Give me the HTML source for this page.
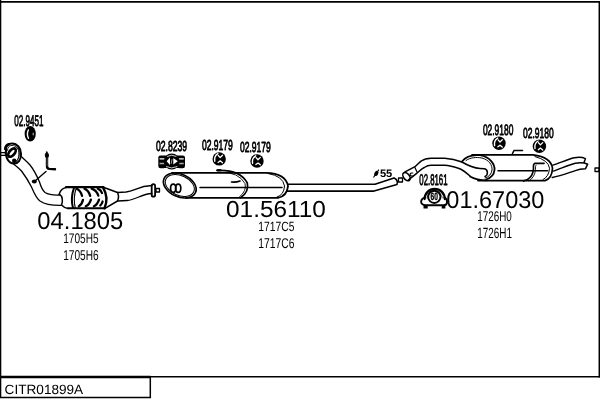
<!DOCTYPE html>
<html><head><meta charset="utf-8"><style>
html,body{margin:0;padding:0;background:#fff;}
svg{display:block;will-change:transform;}
text{font-family:"Liberation Sans",sans-serif;fill:#000;stroke-linejoin:round;text-rendering:geometricPrecision;}
</style></head><body>
<svg width="600" height="400" viewBox="0 0 600 400">
<g fill="none" stroke="#000" stroke-linecap="round" stroke-linejoin="round">
<!-- frame -->
<path d="M0.6 0 V398" stroke-width="1.4" stroke-linecap="butt"/>
<path d="M0 1.8 H600" stroke-width="1.8" stroke-linecap="butt"/>
<path d="M599.3 1 V377.5" stroke-width="1.5" stroke-linecap="butt"/>
<path d="M0 377 H150.5" stroke-width="2.4" stroke-linecap="butt"/>
<path d="M150 376.8 H600" stroke-width="1.5" stroke-linecap="butt"/>
<path d="M150.3 377 V398" stroke-width="1.5" stroke-linecap="butt"/>
<path d="M0 397.6 H151" stroke-width="1.5" stroke-linecap="butt"/>

<!-- ===== downpipe / cat ===== -->
<rect x="0" y="152.6" width="5.5" height="2.8" stroke-width="1.2"/>
<path d="M6 150 C5 146 8 143.5 12 143.5 C17 143.5 21 148 21 154 C21 160 18 163.5 14 163.5 C9 163.5 5 158 6 150 Z" stroke-width="2.1"/>
<path d="M5.2 149 C5.5 146 7 144.8 9 144.3" stroke-width="2.6"/>
<path d="M7.6 150.5 C7.2 147.5 9.2 145.4 12 145.4 C15.8 145.4 19.1 149 19.1 154 C19.1 158.5 17 161.5 14.5 161.7" stroke-width="0.9"/>
<ellipse cx="12" cy="152.6" rx="4.9" ry="2.6" transform="rotate(-50 12 152.6)" stroke-width="2.7"/>
<path d="M18 147.5 C20 151 19.5 158 16.5 161.5" stroke-width="0.9"/>
<circle cx="14.2" cy="160.7" r="2.2" fill="#000" stroke="none"/>
<!-- pipe edges -->
<path d="M12.8 163.3 C16 166 19 168 21.5 171 C26 177 29 182 31.5 187 C34 193 36 198 40 201 C45 204.5 52 205.5 61 205.4" stroke-width="1.3"/>
<path d="M21.5 156.8 C24.5 159.5 27.5 162 30 165 C34 170 37 176 39.5 182 C41 187 42 190 45 192.5 C49 195 54 195.3 60 195" stroke-width="1.3"/>
<!-- sensor -->
<path d="M46.8 152 C45 153.5 44.8 156 46 157.5 C46.6 158 47.2 158 47.8 157.5 C49 156 48.7 153.5 46.8 152 Z" fill="#000" stroke-width="1"/>
<path d="M47 156 V166.3 Q47 168.6 49.3 168.9 L55 169.3" stroke-width="2.4"/>
<path d="M47.1 158 V165.8" stroke="#999" stroke-width="0.6"/>
<path d="M46 171.5 L35 181" stroke-width="1.4"/>
<ellipse cx="34.3" cy="181.5" rx="2.5" ry="1.9" fill="#000" stroke="none"/>
<!-- cat inlet -->
<path d="M59.2 194.2 C60 191 62 188 67 187.2" stroke-width="1.5"/>
<path d="M59.2 194.2 C62.5 196 63.2 201 61.5 204.9 C63 206.5 65 208 68 208.4" stroke-width="1.5"/>
<!-- body -->
<path d="M66 187.2 H103.5" stroke-width="2.2"/>
<path d="M68 208.3 H105" stroke-width="2"/>
<path d="M74 187.8 Q70.3 198 73 208" stroke-width="2"/>
<path d="M76.3 188 Q72.8 198 75.3 208" stroke-width="1.1"/>
<path d="M103 187.3 Q109 197.5 104.5 208.3" stroke-width="2.4"/>
<!-- hatching -->
<path d="M76.8 188.8 Q80.5 190.5 82 195.8 M84.5 188.6 Q88.5 190.3 90.2 195.8 M91.7 188.6 Q96.5 190.3 98.3 195.6 M97.8 188.6 Q101 189.8 102 193" stroke-width="2.3"/>
<path d="M78.8 206.2 Q82 204.5 83 199.8 M85.8 206.2 Q89.5 204.5 90.9 199.6 M93.9 206.2 Q97.5 204.5 99 199.6 M100.3 205.5 Q102 204 102.6 201.5" stroke-width="2.3"/>
<!-- right cone -->
<path d="M104 187.5 L117.5 192.5 Q119.5 197 117.5 201 L105 208.4" stroke-width="1.5"/>
<!-- pipe to flange -->
<path d="M117.5 192.5 L126 192 C135 191 138 186 152 185.5" stroke-width="1.3"/>
<path d="M117.5 201 L127 200.5 C136 200 141 194 152 193.5" stroke-width="1.3"/>
<rect x="151.7" y="184.2" width="3.4" height="12.4" rx="1.7" stroke-width="1.8"/>
<rect x="156" y="188.5" width="3.5" height="3.5" stroke-width="1.3"/>

<!-- hanger 02.9451 -->
<ellipse cx="30.2" cy="133.7" rx="5.6" ry="7.7" fill="#000" stroke="none"/>
<path d="M28.4 130 Q26.4 134 28.4 138.3" stroke="#fff" stroke-width="1.4"/>
<ellipse cx="33.2" cy="134" rx="0.6" ry="1.6" fill="#bbb" stroke="none"/>

<!-- ===== middle muffler ===== -->
<!-- clamp 02.8239 -->
<path d="M158.3 157.5 Q158.3 155.5 160.5 155.5 H166.5 V168 H164 V168.3 H160.5 Q158.3 168.3 158.3 166 Z" fill="#000" stroke="none"/>
<path d="M185 157.5 Q185 155.5 182.8 155.5 H176.8 V168 H179.3 V168.3 H182.8 Q185 168.3 185 166 Z" fill="#000" stroke="none"/>
<path d="M159.6 158.9 H165.3 M178 158.9 H183.7" stroke="#fff" stroke-width="1.3" stroke-linecap="butt"/>
<path d="M159.6 163.5 H165.3 M178 163.5 H183.7" stroke="#aaa" stroke-width="1.3" stroke-linecap="butt"/>
<circle cx="171.7" cy="161.5" r="8" fill="#000" stroke="none"/>
<path d="M167.5 156.3 Q171.7 154 176 156.3 M166.5 166.7 Q171.7 169.3 177 166.7" stroke="#fff" stroke-width="0.8"/>
<path d="M166.6 161.3 L170 157.6 V165 Z M177.8 161.3 L173.3 158 V164.6 Z" fill="#fff" stroke="none"/>
<path d="M172 159.5 L171.2 163.5" stroke="#fff" stroke-width="0.6"/>
<!-- muffler body -->
<ellipse cx="179.8" cy="185.5" rx="17.2" ry="11.3" transform="rotate(24 179.8 185.5)" stroke-width="1.7"/>
<ellipse cx="179.8" cy="185.5" rx="15.3" ry="9.8" transform="rotate(24 179.8 185.5)" stroke-width="1"/>
<ellipse cx="173.2" cy="188.2" rx="2.6" ry="4.1" stroke-width="1.7"/>
<ellipse cx="178.2" cy="188.2" rx="2.6" ry="4.1" stroke-width="1.7"/>
<path d="M172 172.8 H266 Q286 173.3 288 186.2 Q287 196.2 278 197.9 H186" stroke-width="1.8"/>
<path d="M268 173.5 Q283 176 284.5 186 Q284 195 277 197" stroke-width="1"/>
<path d="M200 187.4 H282" stroke-width="1.5"/>
<!-- band -->
<path d="M217 170.5 Q240 169.5 247.3 183 Q249.3 192 240.5 197.8" stroke-width="1.7"/>
<path d="M221 172.3 Q238.5 172 245 183.5 Q247 191 239.5 196.8" stroke-width="0.9"/>
<ellipse cx="219" cy="170.3" rx="2.8" ry="1.3" fill="#000" stroke="none"/>
<path d="M231.5 182 Q236 182.5 240 181" stroke-width="1.6"/>

<!-- mid pipe -->
<path d="M288 184.2 H375 L394 177.9 Q398.5 179.6 397 184.6 L374 191.1 H287" stroke-width="1.6"/>
<rect x="398.5" y="178" width="4" height="4" stroke-width="1.3"/>
<!-- diameter symbol -->
<path d="M373.8 177 L378.6 170" stroke-width="1.2"/>
<ellipse cx="376.3" cy="173.4" rx="2.7" ry="1.9" transform="rotate(-58 376.3 173.4)" fill="#000" stroke="none"/>

<!-- ===== rear section ===== -->
<!-- clamp 02.8161 -->
<path d="M424.6 199 A10.1 10.1 0 0 1 444.8 199" stroke-width="2.3"/>
<path d="M426.8 198 A8 8 0 0 1 442.6 198" stroke="#666" stroke-width="0.8"/>
<ellipse cx="434.3" cy="196.8" rx="6.2" ry="6.1" stroke-width="2"/>
<path d="M424.6 197.6 C421 198.5 420.6 202 421.6 203.5 C422.5 205 424 205.2 426 205.2 H443.5 C445.5 205.2 447 204.5 447 202.5 C447 200 446 198 444.6 197.6" stroke-width="1.9"/>
<rect x="423.5" y="205" width="4.2" height="3.5" fill="#000" stroke="none"/>
<rect x="441.7" y="205" width="3.7" height="3.5" fill="#000" stroke="none"/>

<!-- rear pipe -->
<ellipse cx="406.5" cy="176.6" rx="2.9" ry="4.7" transform="rotate(-38 406.5 176.6)" stroke-width="1.6"/>
<path d="M405 171.8 L415.5 166.3 C418 164 419.5 162 421.3 161 C424 159 427 158.2 431 158.2 H444.7 C451 158.5 457 160 462 162" stroke-width="1.5"/>
<path d="M408.5 179.8 L417.3 172.8 C420 170.5 422 168.5 424.3 167.5 C426.5 166 428.5 165.2 431 165.2 H444.7 C450 165.3 455 167 459.8 168.7 C463 170 466 172.5 470 176" stroke-width="1.5"/>
<path d="M414.9 167.5 L417.3 172.4" stroke-width="1.2"/>
<path d="M412.8 173 Q409.8 172.8 410.2 174.6 Q410.3 176.3 413.2 176" stroke-width="1.1"/>

<!-- muffler 2 -->
<path d="M462 161.5 C466 156 472 154.5 480 155.2 C490 157 495 164 494.5 170 C494 175 491 178 486 179.5" stroke-width="1.8"/>
<path d="M466 160.5 C470 157.5 476 157 482 158 C489 160 492.5 165 492 170 C491.5 174 489 177 485 178" stroke-width="1"/>
<path d="M462 162 C467 165 472 168 480 168.5 L484.5 168.8 C488 169.5 488.5 175 485 176.5" stroke-width="1.5"/>
<path d="M470 176.5 C474 178.8 480 180.3 487 180.5" stroke-width="1.5"/>
<path d="M472 154.9 H533 Q551 157.2 552.5 168.2 Q552 178.5 545 180.6 H478" stroke-width="1.7"/>
<path d="M535 156.6 Q548.5 160.2 549.5 168.2 Q549 176.5 543 179.6" stroke-width="1"/>
<path d="M498 170.8 H547.5" stroke-width="1.5"/>
<path d="M512.5 153.5 L514 150.5 H522.5" stroke-width="1.6"/>
<path d="M544 163.3 H535 Q533 164 533.5 169 Q533 176 527.5 179.5 L523.5 181" stroke-width="1.7"/>
<path d="M536 165 Q535 165.5 535.5 169.5 Q535 177 529 181" stroke-width="0.9"/>

<!-- tailpipes -->
<path d="M552.8 165.1 C560 163 567 159.5 574.4 157.8 C579 157 583 157.5 585.4 158.7 L584 162.4" stroke-width="1.5"/>
<path d="M553.3 171.1 C560 169 568 165 575.3 163.3 C580 162.5 585 163 587.7 164.2 L585.4 168.8 C580 169 577 170 575.3 170.6 C568 173 560 176 552.3 177.5" stroke-width="1.5"/>
<rect x="595" y="168" width="4" height="3.5" stroke-width="1.3"/>
</g>

<g transform="translate(219.2 158.9)"><circle r="6.7" fill="#000"/><path d="M-1.3 -5.2 Q-5.3 -2.8 -4.4 2.3" fill="none" stroke="#fff" stroke-width="1.4" stroke-linecap="round"/><path d="M-0.9 -3.4 L1 -1.3 L3.3 -3.6 M-1.1 3.5 L1 1.9 L3.3 3.8" fill="none" stroke="#fff" stroke-width="1.3" stroke-linecap="round" stroke-linejoin="round"/></g>
<g transform="translate(257 161)"><circle r="6.7" fill="#000"/><path d="M-1.3 -5.2 Q-5.3 -2.8 -4.4 2.3" fill="none" stroke="#fff" stroke-width="1.4" stroke-linecap="round"/><path d="M-0.9 -3.4 L1 -1.3 L3.3 -3.6 M-1.1 3.5 L1 1.9 L3.3 3.8" fill="none" stroke="#fff" stroke-width="1.3" stroke-linecap="round" stroke-linejoin="round"/></g>
<g transform="translate(499 143.3)"><circle r="6.7" fill="#000"/><path d="M-1.3 -5.2 Q-5.3 -2.8 -4.4 2.3" fill="none" stroke="#fff" stroke-width="1.4" stroke-linecap="round"/><path d="M-0.9 -3.4 L1 -1.3 L3.3 -3.6 M-1.1 3.5 L1 1.9 L3.3 3.8" fill="none" stroke="#fff" stroke-width="1.3" stroke-linecap="round" stroke-linejoin="round"/></g>
<g transform="translate(539.4 146.2)"><circle r="6.7" fill="#000"/><path d="M-1.3 -5.2 Q-5.3 -2.8 -4.4 2.3" fill="none" stroke="#fff" stroke-width="1.4" stroke-linecap="round"/><path d="M-0.9 -3.4 L1 -1.3 L3.3 -3.6 M-1.1 3.5 L1 1.9 L3.3 3.8" fill="none" stroke="#fff" stroke-width="1.3" stroke-linecap="round" stroke-linejoin="round"/></g>
<g>
<text transform="translate(14.18 126.18) scale(0.5227 1)" font-size="15.51" stroke="#000" stroke-width="0.80">02.9451</text>
<text transform="translate(37.35 229.26) scale(0.9790 1)" font-size="24.29">04.1805</text>
<text transform="translate(63.23 242.66) scale(0.7301 1)" font-size="13.84">1705H5</text>
<text transform="translate(63.23 259.66) scale(0.7089 1)" font-size="14.27">1705H6</text>
<text transform="translate(155.89 151.49) scale(0.5962 1)" font-size="14.52" stroke="#000" stroke-width="0.80">02.8239</text>
<text transform="translate(201.89 150.19) scale(0.5904 1)" font-size="14.52" stroke="#000" stroke-width="0.80">02.9179</text>
<text transform="translate(239.89 152.19) scale(0.5904 1)" font-size="14.52" stroke="#000" stroke-width="0.80">02.9179</text>
<text transform="translate(226.02 217.07) scale(1.0529 1)" font-size="23.16">01.56110</text>
<text transform="translate(258.21 230.87) scale(0.7708 1)" font-size="13.42">1717C5</text>
<text transform="translate(258.21 247.86) scale(0.7327 1)" font-size="14.12">1717C6</text>
<text transform="translate(379.89 176.64) scale(1.0395 1)" font-size="10.74" font-weight="bold">55</text>
<text transform="translate(419.29 185.24) scale(0.5069 1)" font-size="15.44" stroke="#000" stroke-width="0.80">02.8161</text>
<text transform="translate(482.89 135.19) scale(0.5597 1)" font-size="15.08" stroke="#000" stroke-width="0.80">02.9180</text>
<text transform="translate(522.89 138.19) scale(0.5888 1)" font-size="14.52" stroke="#000" stroke-width="0.80">02.9180</text>
<text transform="translate(446.36 207.56) scale(0.9677 1)" font-size="24.29">01.67030</text>
<text transform="translate(477.25 220.86) scale(0.7001 1)" font-size="14.12">1726H0</text>
<text transform="translate(477.25 237.85) scale(0.6687 1)" font-size="14.83">1726H1</text>
<text transform="translate(430.57 199.64) scale(0.6282 1)" font-size="10.57" font-weight="bold" stroke="#000" stroke-width="0.35">60</text>
<text transform="translate(4.62 393.67) scale(1.0135 1)" font-size="13.42">CITR01899A</text>
</g>
</svg>
</body></html>
